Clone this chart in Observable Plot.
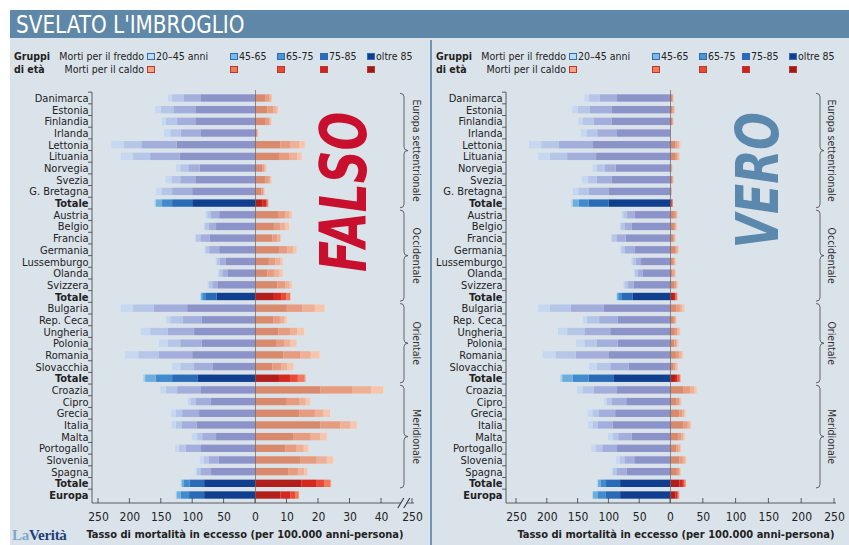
<!DOCTYPE html>
<html lang="it"><head><meta charset="utf-8">
<script src="https://cdn.jsdelivr.net/npm/d3@7"></script>
<script src="https://cdn.jsdelivr.net/npm/@observablehq/plot@0.6"></script>
<style>
html,body{margin:0;padding:0;background:#fff;}
body{width:849px;height:545px;position:relative;overflow:hidden;font-family:"DejaVu Sans Condensed","DejaVu Sans",sans-serif;font-stretch:condensed;color:#222;}
#bg{position:absolute;left:10px;top:10px;right:0;bottom:0;background:#dbe3ea;}
#banner{position:absolute;left:10px;top:10px;right:0;height:28px;background:#5f87a7;}
#title{position:absolute;left:16px;top:10px;height:28px;line-height:30px;color:#fff;font-family:"Liberation Sans Narrow","DejaVu Sans Condensed",sans-serif;font-size:25px;transform:scaleX(0.89);transform-origin:0 50%;white-space:nowrap;}
#divider{position:absolute;left:430px;top:40px;width:2px;height:505px;background:#7097b8;}
.lg{position:absolute;font-size:10.5px;line-height:12px;white-space:nowrap;}
.lg b{font-weight:bold;}
.sw{position:absolute;width:8px;height:7px;box-sizing:border-box;}
.plot{position:absolute;top:85px;}
.xtitle{position:absolute;top:528px;font-size:11px;font-weight:bold;white-space:nowrap;transform:translateX(-50%);}
#logo{position:absolute;left:12px;top:527px;font-family:"Liberation Serif","DejaVu Serif",serif;font-weight:bold;font-size:15px;letter-spacing:-0.3px;}
</style></head>
<body>
<div id="bg"></div>
<div id="banner"></div>
<div id="title">SVELATO L'IMBROGLIO</div>
<div id="divider"></div>
<div id="logo"><span style="color:#7fa6cf">La</span><span style="color:#1d3f78">Verità</span></div>
<script>
// ---------- DATA ----------
const rowLabels = ["Danimarca","Estonia","Finlandia","Irlanda","Lettonia","Lituania","Norvegia","Svezia","G. Bretagna","Totale",
  "Austria","Belgio","Francia","Germania","Lussemburgo","Olanda","Svizzera","Totale",
  "Bulgaria","Rep. Ceca","Ungheria","Polonia","Romania","Slovacchia","Totale",
  "Croazia","Cipro","Grecia","Italia","Malta","Portogallo","Slovenia","Spagna","Totale",
  "Europa"];
const rowRegion = [0,0,0,0,0,0,0,0,0,0, 1,1,1,1,1,1,1,1, 2,2,2,2,2,2,2, 3,3,3,3,3,3,3,3,3, -1];
const regionNames = ["Europa settentrionale","Occidentale","Orientale","Meridionale"];
const boldLabels = ["Totale","Europa"];
// age groups from the oldest (next to zero) to the youngest (outside)
const ageGroups = ["oltre 85","75-85","65-75","45-65","20-45"];
const legendAgeLabels = ["20–45 anni","45-65","65-75","75-85","oltre 85"];
// cold-related excess mortality per 100,000 person-years, by ageGroups order
const coldRates = [
  [86,28,18,7,2],[95,35,20,9,2],[95,29,18,7,1],[86,32,17,10,2],[125,56,28,20,4],
  [120,47,28,19,4],[88,18,13,7,1],[95,24,14,10,2],[100,32,17,9,2],[100,32,16,10,2],
  [57,13,6,3,1],[62,12,6,2,1],[72,15,7,2,1],[57,16,6,2,1],[47,9,5,2,1],
  [44,8,5,2,1],[59,9,6,2,1],[61,17,6,2,1],
  [108,53,34,19,3],[85,30,20,7,2],[97,42,28,15,3],[85,34,20,14,2],[100,53,33,21,3],
  [67,30,22,13,2],[91,41,26,17,3],
  [86,38,18,9,2],[71,24,8,4,1],[89,27,10,8,2],[93,24,9,7,1],[62,22,9,8,1],
  [86,24,11,7,1],[58,16,8,6,1],[70,17,6,2,0.5],[81,23,9,4,1],
  [81,24,13,7,1]
];
// heat-related excess mortality per 100,000 person-years, by ageGroups order
const heatRates = [
  [3.2,1.3,0.6,0.3,0.1],[3.9,1.9,1.1,0.5,0.2],[3.4,1.1,0.5,0.2,0.1],[0.6,0.2,0.1,0.1,0],[8.1,3.0,2.9,1.8,0.3],
  [7.6,3.2,2.6,1.4,0.2],[2.3,0.7,0.4,0.2,0],[3.3,1.1,0.6,0.2,0.1],[2.0,0.6,0.3,0.2,0],[2.3,1.3,0.4,0.2,0],
  [7.3,2.4,1.3,0.7,0.2],[6.0,2.1,1.6,1.1,0.2],[5.5,1.6,0.9,0.3,0.1],[7.6,2.6,1.9,1.1,0.2],[4.4,2.1,1.6,0.7,0.2],
  [3.9,2.1,1.8,1.0,0.2],[7.1,2.6,1.3,0.7,0.2],[6.0,2.3,1.7,1.1,0.2],
  [10.1,5.0,3.9,3.1,0.3],[5.8,2.1,1.5,0.7,0.2],[7.4,3.7,2.3,2.2,0.3],[6.9,2.5,1.9,1.9,0.2],[9.0,5.3,3.4,2.8,0.3],
  [5.5,2.9,1.9,1.9,0.2],[7.6,3.5,2.5,2.2,0.3],
  [20.8,10,6.1,3.8,0.3],[10.1,3.9,2.1,1.4,0.2],[14,5,2.8,2.0,0.2],[20.8,6.3,3.2,2.0,0.2],[12.1,5.6,3.0,2.1,0.2],
  [9.7,3.5,2.3,1.4,0.2],[14.3,5.3,3.2,2.1,0.2],[10.5,3.2,1.9,1.1,0.1],[14.7,4.9,2.3,2.1,0.2],
  [8.1,3.2,1.6,1.0,0.1]
];
const xTicksFalso = [-250,-200,-150,-100,-50,0,10,20,30,40,250];
const xTicksVero = [-250,-200,-150,-100,-50,0,50,100,150,200,250];
const stampTexts = ["FALSO","VERO"];
const legendLabelCold = "Morti per il freddo";
const legendLabelHeat = "Morti per il caldo";
const axisTitle = "Tasso di mortalità in eccesso (per 100.000 anni-persona)";

// ---------- STYLE ----------
const colCold = ["#8c93c9","#a3aedd","#b6c6e8","#c6d8ef","#d4e4f2"];
const colColdTot = ["#0f3f8e","#2a6bb7","#3f8bcd","#6eaede","#a5d0ec"];
const colHeat = ["#d98a6d","#e79c80","#efb096","#f5c5ae","#f8d8c8"];
const colHeatTot = ["#b21f1b","#d6281f","#ea4a33","#f07a5b","#f5a98a"];
const legCold = ["#b9dcef","#7fb8e0","#4b95d1","#2a6cbb","#123f8c"];
const legHeat = ["#f4a383","#ef7b5c","#e84a33","#d42020","#9d1b1e"];
const fontFam = '"DejaVu Sans Condensed","DejaVu Sans",sans-serif';

const panels = [
  {left:0, width:430, marginLeft:92, xDomain:[-250,0,45,250], xRange:[98,255,396.75,412], ticks:xTicksFalso, breakAt:140,
   braceX:404, braceTextX:417, stamp:{text:stampTexts[0], x:28.5, row:8, color:"#c8102e", size:64, len:160}, legendLeft:0, titleX:245},
  {left:430, width:419, marginLeft:76, xDomain:[-250,0,250], xRange:[86,240,404], ticks:xTicksVero, breakAt:null,
   braceX:390, braceTextX:402, stamp:{text:stampTexts[1], x:135, row:7, color:"#5b88ad", size:58, len:136}, legendLeft:422, titleX:676}
];

const keys = [], keyColors = [];
[["cC",colCold],["cT",colColdTot],["hC",colHeat],["hT",colHeatTot]].forEach(([p,c]) => c.forEach((col,j)=>{keys.push(p+j); keyColors.push(col);}));

const data = [];
rowLabels.forEach((lab,i) => {
  const tot = boldLabels.includes(lab);
  ageGroups.forEach((g,j) => {
    data.push({row:i, value:-coldRates[i][j], key:(tot?"cT":"cC")+j});
    data.push({row:i, value:heatRates[i][j], key:(tot?"hT":"hC")+j});
  });
});
const rows = d3.range(rowLabels.length);
const normalRows = rows.filter(i => !boldLabels.includes(rowLabels[i]));
const boldRows = rows.filter(i => boldLabels.includes(rowLabels[i]));

function decor(cfg) {
  return (index, scales, values, dims) => {
    const x = scales.x, y = scales.y;
    const bw = y.bandwidth(), step = y.step();
    const gap = (step - bw) / 2;
    const ml = dims.marginLeft;
    const bottom = dims.height - dims.marginBottom;
    const g = d3.create("svg:g").attr("fill","none").attr("stroke","#3a3a3a").attr("stroke-width",0.8);
    let d = `M${ml},${y(0)-gap}V${bottom}`;
    rows.forEach(i => { d += `M${ml-4},${y(i)-gap}H${ml}`; });
    g.append("path").attr("d", d);
    const xEnd = x(cfg.ticks[cfg.ticks.length-1]) + 2;
    let ax;
    if (cfg.breakAt != null) {
      const xb = x(cfg.breakAt);
      ax = `M${ml},${bottom}H${xb-3}M${xb+3},${bottom}H${xEnd}`;
      g.append("path").attr("d", `M${xb-6},${bottom+5}L${xb},${bottom-5}M${xb},${bottom+5}L${xb+6},${bottom-5}`).attr("stroke-width",1.1);
    } else ax = `M${ml},${bottom}H${xEnd}`;
    cfg.ticks.forEach(t => { ax += `M${x(t)},${bottom}V${bottom-5}`; });
    g.append("path").attr("d", ax);
    regionNames.forEach((name, r) => {
      const rr = rows.filter(i => rowRegion[i] === r);
      const y0 = y(rr[0]) - 1, y1 = y(rr[rr.length-1]) + bw + 1, ym = (y0+y1)/2;
      const bx = cfg.braceX, k = 3.5;
      g.append("path").attr("stroke","#555").attr("stroke-width",0.9)
        .attr("d", `M${bx-4},${y0}Q${bx},${y0} ${bx},${y0+k}L${bx},${ym-k}Q${bx},${ym} ${bx+4},${ym}Q${bx},${ym} ${bx},${ym+k}L${bx},${y1-k}Q${bx},${y1} ${bx-4},${y1}`);
      g.append("text").attr("stroke","none").attr("fill","#333").attr("font-size",10.5)
        .attr("text-anchor","middle").attr("dominant-baseline","central")
        .attr("transform",`translate(${cfg.braceTextX},${ym}) rotate(90)`).text(name);
    });
    return g.node();
  };
}

panels.forEach(cfg => {
  const chart = Plot.plot({
    width: cfg.width, height: 460,
    marginTop: 5, marginBottom: 42, marginLeft: cfg.marginLeft, marginRight: 10,
    style: {background:"transparent", fontFamily: fontFam, color:"#222", overflow:"visible"},
    x: {type:"linear", domain: cfg.xDomain, range: cfg.xRange},
    y: {type:"band", domain: rows, padding: 0.37, round: false},
    color: {type:"ordinal", domain: keys, range: keyColors},
    marks: [
      Plot.barX(data, Plot.stackX({y:"row", x:"value", fill:"key"})),
      Plot.ruleX([0], {stroke:"#666", strokeWidth:0.7}),
      Plot.axisY({ticks: normalRows, tickFormat: i => rowLabels[i], tickSize:0, tickPadding:4, fontSize:11, label:null}),
      Plot.axisY({ticks: boldRows, tickFormat: i => rowLabels[i], tickSize:0, tickPadding:4, fontSize:11, fontWeight:"bold", label:null}),
      Plot.axisX({ticks: cfg.ticks, tickFormat: d => Math.abs(d), tickSize:0, tickPadding:9, fontSize:12, label:null}),
      decor(cfg),
      Plot.text([cfg.stamp], {x:"x", y:"row", text:"text", rotate:-90, fontSize:cfg.stamp.size, fontWeight:900, fontStyle:"italic",
        fill:cfg.stamp.color, fontFamily:'"Liberation Sans Narrow","DejaVu Sans Condensed",sans-serif'})
    ]
  });
  chart.classList.add("plot");
  chart.style.left = cfg.left + "px";
  chart.querySelectorAll("text").forEach(t => {
    if (t.textContent === cfg.stamp.text) { t.setAttribute("textLength", cfg.stamp.len); t.setAttribute("lengthAdjust", "spacingAndGlyphs"); }
  });
  document.body.appendChild(chart);

  const L = cfg.legendLeft;
  const add = (html, style, cls="lg") => { const e = document.createElement("div"); e.className = cls; e.innerHTML = html; Object.assign(e.style, style); document.body.appendChild(e); return e; };
  add("<b>Gruppi</b>", {left:(L+14)+"px", top:"50px"});
  add("<b>di età</b>", {left:(L+14)+"px", top:"63px"});
  add(legendLabelCold, {right:(849-(L+144))+"px", top:"50px"});
  add(legendLabelHeat, {right:(849-(L+144))+"px", top:"63px"});
  const swX = [147, 230, 277, 320, 367];
  legendAgeLabels.forEach((lab, k) => {
    add("", {left:(L+swX[k])+"px", top:"53px", background:legCold[k], border:"1px solid #2a6cbb"}, "sw");
    add("", {left:(L+swX[k])+"px", top:"66px", background:legHeat[k], border:"1px solid #b8382a"}, "sw");
    add(lab, {left:(L+swX[k]+9)+"px", top:"50px"});
  });
  add(axisTitle, {left:cfg.titleX+"px"}, "xtitle");
});
</script>
</body></html>
